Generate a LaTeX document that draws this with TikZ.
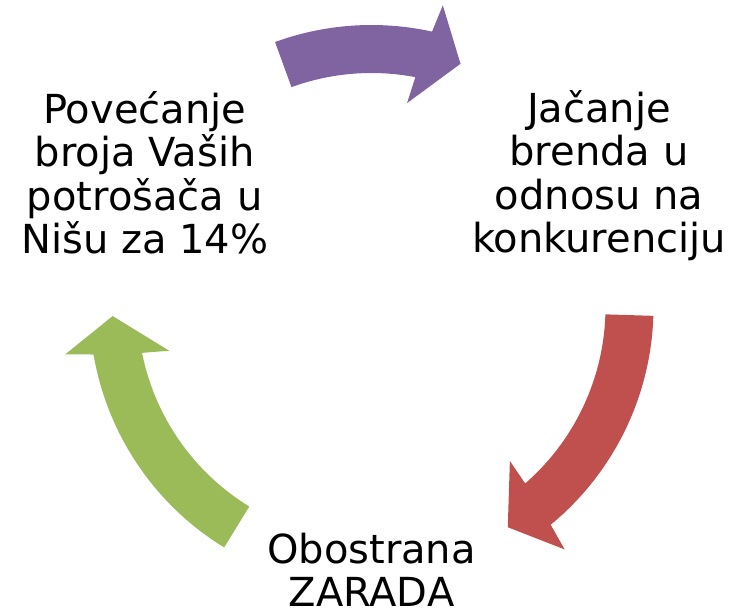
\documentclass[tikz,border=0pt]{standalone}
\usepackage{fontspec}
\setmainfont{DejaVu Sans}
\usepackage{tikz}
\usetikzlibrary{calc}

\definecolor{cyclepurple}{RGB}{128,100,162}
\definecolor{cyclered}{RGB}{192,80,77}
\definecolor{cyclegreen}{RGB}{155,187,89}

% block arc arrow round (C): colour, tail angle, head base angle
\newcommand{\cyclearrow}[3]{%
\fill[#1] ($(C)+(#2:282)$) arc[start angle=#2, end angle=#3+0.8, radius=282]
  -- ($(C)+(#3+1.7:310)$) -- ($(C)+(#3+8.5:259)$) -- ($(C)+(#3-1.7:207)$)
  -- ($(C)+(#3-0.8:234)$) arc[start angle=#3-0.8, end angle=#2, radius=234] -- cycle ;}

\tikzset{cycletext/.style={anchor=base, inner sep=0pt, align=center,
  font=\fontsize{40}{43.3}\selectfont}}

\begin{document}
\begin{tikzpicture}[x=1pt,y=1pt,yscale=-1,xscale=1]
\useasboundingbox (0,0) rectangle (736,610);

\coordinate (C) at (371.5,307);

%Shape: Block Arc [purple]
\cyclearrow{cyclepurple}{-110}{-78.4}
%Shape: Block Arc [red]
\cyclearrow{cyclered}{1.8}{49.75}
%Shape: Block Arc [green]
\cyclearrow{cyclegreen}{-238.5}{-190.5}

% Text Node (base = last line)
\draw (144.7,253.3) node (povecanje) [cycletext] {Povećanje\\broja Vaših\\potrošača u\\Nišu za 14\%};
% Text Node
\draw (599,252.3) node (jacanje) [cycletext] {Jačanje\\brenda u\\odnosu na\\konkurenciju};
% Text Node
\draw (371.5,606.7) node (zarada) [cycletext] {Obostrana\\ZARADA};

\end{tikzpicture}
\end{document}
